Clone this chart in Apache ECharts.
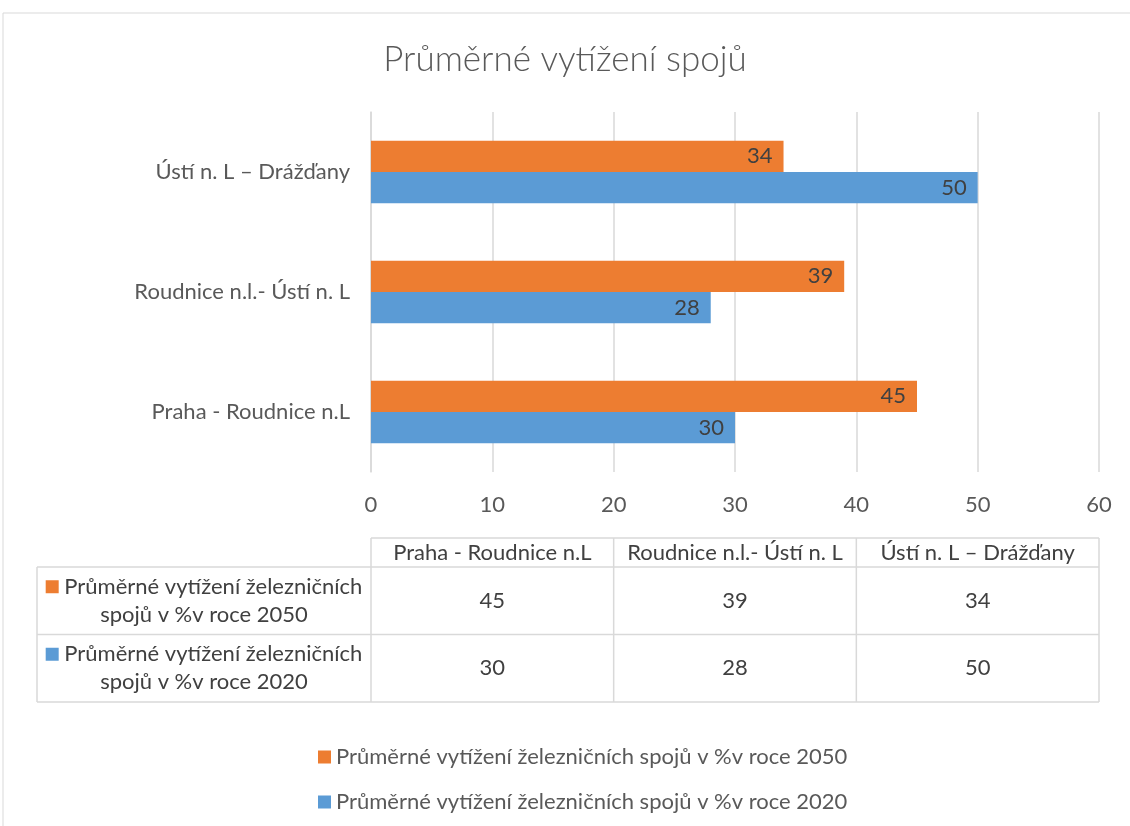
<!DOCTYPE html>
<html>
<head>
<meta charset="utf-8">
<script src="https://cdn.jsdelivr.net/npm/echarts@6/dist/echarts.min.js"></script>
<style>
  html, body { margin: 0; padding: 0; background: #fff; }
  #main { width: 1130px; height: 826px; }
</style>
</head>
<body>
<div id="main"></div>
<script>
// data
const categories = ["Praha - Roudnice n.L", "Roudnice n.l.- Ústí n. L", "Ústí n. L – Drážďany"];
const name2050 = "Průměrné vytížení železničních spojů v %v roce 2050";
const name2020 = "Průměrné vytížení železničních spojů v %v roce 2020";
const values2050 = [45, 39, 34];
const values2020 = [30, 28, 50];
const xTicks = [0, 10, 20, 30, 40, 50, 60];

const FONT = "Lato, 'Noto Sans', sans-serif";
const FS = 22;
const ORANGE = "#ED7D31";
const BLUE = "#5B9BD5";
const GRID = "#D9D9D9";

// layout of plot + table
const plotLeft = 371, plotRight = 1099;
const tableLeft = 37;
const headTop = 538, headH = 29, rowH = 67.5;
const colW = (plotRight - plotLeft) / categories.length;

const tableRows = [
  { label: "Průměrné vytížení železničních\nspojů v %v roce 2050", color: ORANGE, values: values2050 },
  { label: "Průměrné vytížení železničních\nspojů v %v roce 2020", color: BLUE, values: values2020 },
];

const buildTable = () => {
  let els = [];
  const line = (x1, y1, x2, y2) => ({
    type: "line",
    shape: { x1: x1, y1: y1, x2: x2, y2: y2 },
    style: { stroke: GRID, lineWidth: 1.5 },
    silent: true,
  });
  const bottom = headTop + headH + rowH * tableRows.length;
  els.push(line(plotLeft, headTop, plotRight, headTop));
  for (let i = 0; i <= categories.length; i++) {
    els.push(line(plotLeft + colW * i, headTop, plotLeft + colW * i, bottom));
  }
  els.push(line(tableLeft, headTop + headH, tableLeft, bottom));
  for (let r = 0; r <= tableRows.length; r++) {
    let y = headTop + headH + rowH * r;
    els.push(line(tableLeft, y, plotRight, y));
  }
  categories.forEach((c, i) => {
    els.push({
      type: "text",
      x: plotLeft + colW * (i + 0.5),
      y: headTop + headH / 2,
      style: { text: c, fontFamily: FONT, fontSize: FS, fill: "#404040", align: "center", verticalAlign: "middle" },
    });
  });
  tableRows.forEach((row, r) => {
    let cy = headTop + headH + rowH * (r + 0.5);
    els.push({
      type: "text",
      x: (tableLeft + plotLeft) / 2,
      y: cy,
      style: {
        text: "{sq|} " + row.label,
        fontFamily: FONT,
        fontSize: FS,
        fill: "#404040",
        align: "center",
        verticalAlign: "middle",
        lineHeight: 28,
        rich: {
          sq: { width: 13, height: 13, backgroundColor: row.color },
        },
      },
    });
    row.values.forEach((v, i) => {
      els.push({
        type: "text",
        x: plotLeft + colW * (i + 0.5),
        y: cy,
        style: { text: String(v), fontFamily: FONT, fontSize: FS, fill: "#404040", align: "center", verticalAlign: "middle" },
      });
    });
  });
  // outer chart border
  els.push({
    type: "rect",
    shape: { x: 3, y: 13, width: 1140, height: 830 },
    style: { fill: "none", stroke: GRID, lineWidth: 1 },
    silent: true,
  });
  return els;
};

const labelStyle = {
  show: true,
  position: "insideRight",
  distance: 11,
  color: "#404040",
  fontFamily: FONT,
  fontSize: FS,
};

const option = {
  animation: false,
  textStyle: { fontFamily: FONT },
  title: {
    text: "Průměrné vytížení spojů",
    left: "center",
    top: 37,
    textStyle: { fontFamily: FONT, fontSize: 35, fontWeight: 300, color: "#595959" },
  },
  legend: {
    data: [name2050, name2020],
    orient: "vertical",
    left: 313,
    top: 741,
    itemWidth: 13,
    itemHeight: 13,
    itemGap: 23,
    icon: "rect",
    textStyle: { fontFamily: FONT, fontSize: FS, color: "#595959" },
  },
  grid: { left: plotLeft, right: 1130 - plotRight, top: 112, bottom: 826 - 472 },
  xAxis: {
    type: "value",
    min: xTicks[0],
    max: xTicks[xTicks.length - 1],
    interval: xTicks[1] - xTicks[0],
    axisLine: { show: false },
    axisTick: { show: false },
    splitLine: { lineStyle: { color: GRID, width: 1.5 } },
    axisLabel: { color: "#595959", fontSize: FS, fontFamily: FONT, margin: 22 },
  },
  yAxis: {
    type: "category",
    data: categories,
    axisLine: { show: true, lineStyle: { color: GRID, width: 1.5 } },
    axisTick: { show: false },
    axisLabel: { color: "#595959", fontSize: FS, fontFamily: FONT, margin: 21 },
  },
  series: [
    {
      name: name2050,
      type: "bar",
      data: values2050,
      itemStyle: { color: ORANGE },
      label: labelStyle,
      barGap: "0%",
      barCategoryGap: "48%",
    },
    {
      name: name2020,
      type: "bar",
      data: values2020,
      itemStyle: { color: BLUE },
      label: labelStyle,
      barGap: "0%",
      barCategoryGap: "48%",
    },
  ],
  graphic: buildTable(),
};

const myChart = echarts.init(document.getElementById("main"));
myChart.setOption(option);
</script>
</body>
</html>
